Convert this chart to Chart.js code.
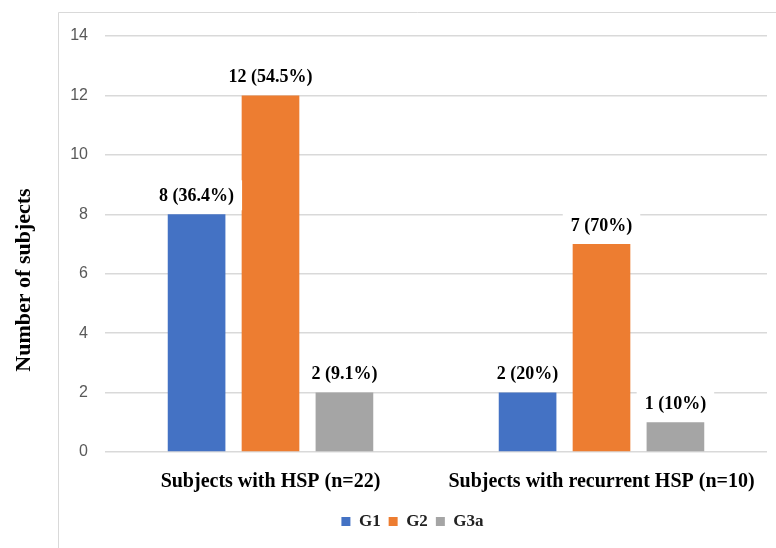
<!DOCTYPE html>
<html>
<head>
<meta charset="utf-8">
<script src="https://cdn.jsdelivr.net/npm/chart.js@4/dist/chart.umd.min.js"></script>
<style>
  html, body { margin: 0; padding: 0; background: #ffffff; }
  #wrap { width: 776px; height: 548px; }
</style>
</head>
<body>
<div id="wrap"><canvas id="chart" width="776" height="548"></canvas></div>
<script>
// Subject counts by group, for all HSP subjects and for recurrent HSP
const categories = ['Subjects with HSP (n=22)', 'Subjects with recurrent HSP (n=10)'];
const groupTotals = [22, 10];
const seriesNames = ['G1', 'G2', 'G3a'];
const g1Counts = [8, 2];
const g2Counts = [12, 7];
const g3aCounts = [2, 1];
const yMax = 14;
const yStep = 2;
const yAxisTitle = 'Number of subjects';

const seriesColors = ['#4472C4', '#ED7D31', '#A5A5A5'];
const serif = '"Liberation Serif", "DejaVu Serif", serif';
const sans = '"Liberation Sans", Arial, sans-serif';

function pctText(v, total) {
  const p = Math.round(v / total * 1000) / 10;
  return (Number.isInteger(p) ? p.toFixed(0) : p.toFixed(1)) + '%';
}

// Panel frame lines (left and top edges) and the vertical axis title,
// which sits outside the frame, centred on the panel height
const framePlugin = {
  id: 'frame',
  beforeDraw(chart) {
    const ctx = chart.ctx;
    ctx.save();
    ctx.strokeStyle = '#d9d9d9';
    ctx.lineWidth = 1;
    ctx.beginPath();
    ctx.moveTo(58.5, 12.5);
    ctx.lineTo(58.5, chart.height);
    ctx.moveTo(58.5, 12.5);
    ctx.lineTo(chart.width, 12.5);
    ctx.stroke();

    ctx.translate(24, (12 + chart.height) / 2);
    ctx.rotate(-Math.PI / 2);
    ctx.font = 'bold 22px ' + serif;
    ctx.fillStyle = '#000000';
    ctx.textAlign = 'center';
    ctx.textBaseline = 'middle';
    ctx.fillText(yAxisTitle, 0, 0);
    ctx.restore();
  }
};

// Count and percentage labels above each bar, on a white box
const valueLabelPlugin = {
  id: 'valueLabels',
  afterDatasetsDraw(chart) {
    const ctx = chart.ctx;
    ctx.save();
    ctx.font = 'bold 18px ' + serif;
    ctx.textAlign = 'center';
    ctx.textBaseline = 'middle';
    chart.data.datasets.forEach((ds, di) => {
      const meta = chart.getDatasetMeta(di);
      meta.data.forEach((bar, i) => {
        const v = ds.data[i];
        const text = v + ' (' + pctText(v, groupTotals[i]) + ')';
        const w = ctx.measureText(text).width;
        const cy = bar.y - 19;
        ctx.fillStyle = '#ffffff';
        ctx.fillRect(bar.x - w / 2 - 8, cy - 15, w + 16, 30);
        ctx.fillStyle = '#000000';
        ctx.fillText(text, bar.x, cy + 1);
      });
    });
    ctx.restore();
  }
};

// Center the legend across the framed panel
const legendShiftPlugin = {
  id: 'legendShift',
  afterLayout(chart) {
    if (chart.legend) {
      chart.legend.left += 58;
    }
  }
};

new Chart(document.getElementById('chart'), {
  type: 'bar',
  data: {
    labels: categories,
    datasets: [
      { label: seriesNames[0], data: g1Counts, backgroundColor: seriesColors[0] },
      { label: seriesNames[1], data: g2Counts, backgroundColor: seriesColors[1] },
      { label: seriesNames[2], data: g3aCounts, backgroundColor: seriesColors[2] }
    ]
  },
  options: {
    responsive: false,
    animation: false,
    devicePixelRatio: 1,
    categoryPercentage: 0.67,
    barPercentage: 0.78,
    layout: { padding: { top: 36, right: 9, bottom: 8, left: 0 } },
    plugins: {
      tooltip: { enabled: false },
      legend: {
        position: 'bottom',
        labels: {
          boxWidth: 9,
          boxHeight: 9,
          padding: 8,
          color: '#222222',
          font: { family: serif, size: 17, weight: 'bold' }
        }
      }
    },
    scales: {
      x: {
        grid: { display: false },
        border: { display: false },
        ticks: {
          color: '#000000',
          padding: 10,
          font: { family: serif, size: 20, weight: 'bold' }
        },
        afterFit(scale) { scale.height = 53; }
      },
      y: {
        min: 0,
        max: yMax,
        grid: { color: '#d9d9d9', lineWidth: 1.5, drawTicks: false },
        border: { display: false },
        ticks: {
          stepSize: yStep,
          padding: 17,
          color: '#595959',
          font: { family: sans, size: 16 }
        },
        afterFit(scale) { scale.width = 105; }
      }
    }
  },
  plugins: [framePlugin, valueLabelPlugin, legendShiftPlugin]
});
</script>
</body>
</html>
